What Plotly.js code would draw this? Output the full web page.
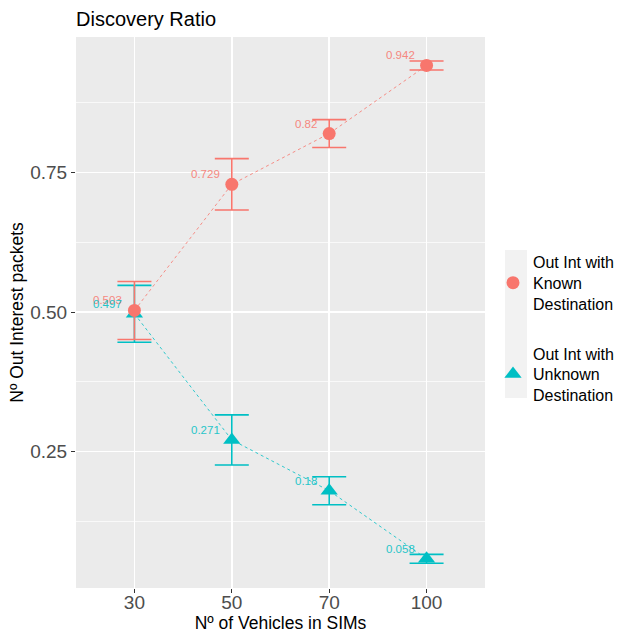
<!DOCTYPE html>
<html>
<head>
<meta charset="utf-8">
<script src="https://cdn.plot.ly/plotly-3.0.1.min.js"></script>
<style>html,body{margin:0;padding:0;background:#fff}#chart{width:625px;height:633px}</style>
</head>
<body>
<div id="chart"></div>
<script>
// ---- data ----
var vehicles = ['30', '50', '70', '100'];
var knownRatio = [0.503, 0.729, 0.82, 0.942];
var knownErr = [0.052, 0.046, 0.025, 0.008];
var unknownRatio = [0.497, 0.271, 0.18, 0.058];
var unknownErr = [0.051, 0.045, 0.025, 0.008];
var knownLabels = ['0.503', '0.729', '0.82', '0.942'];
var unknownLabels = ['0.497', '0.271', '0.18', '0.058'];
var seriesNames = ['Out Int with<br>Known<br>Destination', 'Out Int with<br>Unknown<br>Destination'];

var RED = '#F8766D', CYAN = '#00BFC4';
var FONT = '"Liberation Sans", Arial, Helvetica, sans-serif';

var traces = [
  {x: vehicles, y: knownRatio, type: 'scatter', mode: 'lines', showlegend: false, hoverinfo: 'skip',
   line: {color: RED, width: 1, dash: 'dot'}, opacity: 0.8},
  {x: vehicles, y: unknownRatio, type: 'scatter', mode: 'lines', showlegend: false, hoverinfo: 'skip',
   line: {color: CYAN, width: 1, dash: 'dot'}, opacity: 0.8},
  {x: vehicles, y: unknownRatio, type: 'scatter', mode: 'markers', name: seriesNames[1],
   legendgroup: 'unknown', legendrank: 2,
   marker: {symbol: 'triangle-up', size: 15, color: CYAN},
   error_y: {type: 'data', array: unknownErr, visible: true, color: CYAN, thickness: 1.6, width: 17}},
  {x: vehicles, y: knownRatio, type: 'scatter', mode: 'markers', name: seriesNames[0],
   legendgroup: 'known', legendrank: 1,
   marker: {symbol: 'circle', size: 13, color: RED},
   error_y: {type: 'data', array: knownErr, visible: true, color: RED, thickness: 1.6, width: 17}}
];

var annotations = [];
function addLabels(vals, labels, color) {
  for (var i = 0; i < vals.length; i++) {
    annotations.push({x: i, y: vals[i], xref: 'x', yref: 'y', text: labels[i], showarrow: false,
      xanchor: 'right', yanchor: 'middle', xshift: -10, yshift: 10,
      font: {family: FONT, size: 11.5, color: color}, opacity: 0.85});
  }
}
addLabels(knownRatio, knownLabels, RED);
addLabels(unknownRatio, unknownLabels, CYAN);

var layout = {
  width: 625, height: 633,
  margin: {l: 76, r: 140, t: 37, b: 45},
  paper_bgcolor: '#FFFFFF', plot_bgcolor: '#EBEBEB',
  font: {family: FONT, color: '#000000'},
  title: {text: 'Discovery Ratio', x: 76/625, xanchor: 'left', xref: 'container',
          y: 1 - 19/633, yanchor: 'middle', font: {family: FONT, size: 20, color: '#000000'}},
  xaxis: {type: 'category', categoryorder: 'array', categoryarray: vehicles, range: [-0.6, 3.6],
          showgrid: true, gridcolor: '#FFFFFF', gridwidth: 1.4, zeroline: false, showline: false,
          ticks: 'outside', ticklen: 4, tickwidth: 1, tickcolor: '#333333', ticklabelstandoff: -7,
          tickfont: {family: FONT, size: 19, color: '#4D4D4D'},
          title: {text: 'Nº of Vehicles in SIMs', font: {family: FONT, size: 17.5, color: '#000000'}, standoff: 8}},
  yaxis: {range: [0.0057, 0.993], tick0: 0, dtick: 0.25, tickformat: '.2f',
          showgrid: true, gridcolor: '#FFFFFF', gridwidth: 1.4, zeroline: false, showline: false,
          ticks: 'outside', ticklen: 4, tickwidth: 1, tickcolor: '#333333',
          tickfont: {family: FONT, size: 19, color: '#4D4D4D'},
          minor: {tick0: 0.125, dtick: 0.25, showgrid: true, gridcolor: '#FFFFFF', gridwidth: 0.7, ticks: ''},
          title: {text: 'Nº Out Interest packets', font: {family: FONT, size: 17.5, color: '#000000'}, standoff: 2}},
  legend: {xref: 'container', yref: 'container', x: 493/625, xanchor: 'left', y: 1 - 245/633, yanchor: 'top',
           bgcolor: 'rgba(0,0,0,0)',
           font: {family: FONT, size: 16, color: '#000000'}, tracegroupgap: 26, traceorder: 'grouped',
           itemwidth: 30},
  shapes: [
    {type: 'rect', xref: 'paper', yref: 'paper', x0: (505-76)/409, x1: (527-76)/409,
     y0: (588-398)/551, y1: (588-250)/551, fillcolor: '#F2F2F2', line: {width: 0}, layer: 'below'}
  ],
  annotations: annotations,
  showlegend: true
};

Plotly.newPlot('chart', traces, layout, {displayModeBar: false, staticPlot: true});
</script>
</body>
</html>
